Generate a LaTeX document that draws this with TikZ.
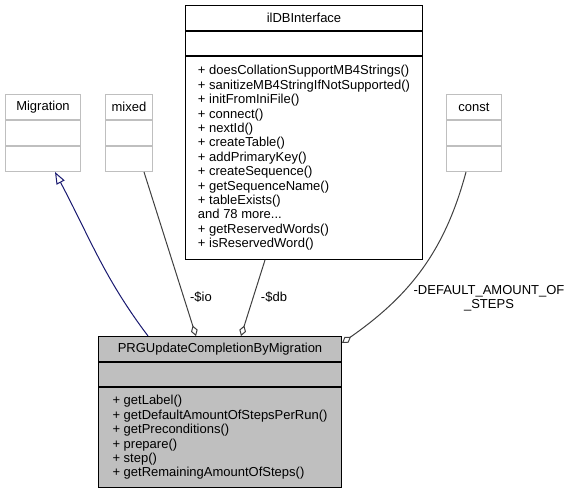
\documentclass[tikz,border=0pt]{standalone}
\usepackage{fontspec}
\setmainfont{Liberation Sans}
\usepackage{tikz}
\usetikzlibrary{positioning,arrows.meta,calc}

\definecolor{ghostgray}{HTML}{BFBFBF}
\definecolor{classfill}{HTML}{BFBFBF}
\definecolor{inheritblue}{HTML}{191970}
\definecolor{usegray}{HTML}{404040}

\begin{document}
\begin{tikzpicture}[x=1pt, y=1pt, node distance=0pt, line width=1pt,
  font=\fontsize{13}{14.4}\selectfont]
\tikzset{block/.style = {draw, rectangle, inner sep=0pt, align=left},
  ghost/.style = {block, draw=ghostgray},
  inherit/.style = {draw=inheritblue,
    -{Triangle[open, length=12pt, width=9pt]}},
  uses/.style = {draw=usegray,
    {Diamond[open, length=11pt, width=7pt]}-},
  lbl/.style = {inner sep=0pt, align=center}}

  \useasboundingbox (0,0) rectangle (575,-492);

  % external classes
  \node[ghost, anchor=north west, minimum width=75pt, minimum height=25pt]
    (migration) at (5,-94) {Migration};
  \node[ghost, minimum width=75pt, minimum height=25pt, below=of migration]
    (migrationattr) {};
  \node[ghost, minimum width=75pt, minimum height=25pt, below=of migrationattr]
    (migrationops) {};

  \node[ghost, anchor=north west, minimum width=47pt, minimum height=25pt]
    (mixed) at (105,-94) {mixed};
  \node[ghost, minimum width=47pt, minimum height=25pt, below=of mixed]
    (mixedattr) {};
  \node[ghost, minimum width=47pt, minimum height=25pt, below=of mixedattr]
    (mixedops) {};

  \node[ghost, anchor=north west, minimum width=55pt, minimum height=25pt]
    (const) at (446,-94) {const};
  \node[ghost, minimum width=55pt, minimum height=25pt, below=of const]
    (constattr) {};
  \node[ghost, minimum width=55pt, minimum height=25pt, below=of constattr]
    (constops) {};

  % database interface
  \node[block, anchor=north west, minimum width=237pt, minimum height=25pt]
    (dbiface) at (185,-5) {ilDBInterface};
  \node[block, minimum width=237pt, minimum height=24pt, below=of dbiface]
    (dbifaceattr) {};
  \node[block, minimum width=237pt, minimum height=203pt, below=of dbifaceattr]
    (dbifaceops) {+ doesCollationSupportMB4Strings()\\
      + sanitizeMB4StringIfNotSupported()\\
      + initFromIniFile()\\
      + connect()\\
      + nextId()\\
      + createTable()\\
      + addPrimaryKey()\\
      + createSequence()\\
      + getSequenceName()\\
      + tableExists()\\
      and 78 more...\\
      + getReservedWords()\\
      + isReservedWord()};

  % the migration itself
  \node[block, fill=classfill, anchor=north west, minimum width=243pt,
    minimum height=25pt] (prg) at (98,-336) {PRGUpdateCompletionByMigration};
  \node[block, fill=classfill, minimum width=243pt, minimum height=24pt,
    below=of prg] (prgattr) {};
  \node[block, fill=classfill, minimum width=243pt, minimum height=100pt,
    below=of prgattr] (prgops) {+ getLabel()\\
      + getDefaultAmountOfStepsPerRun()\\
      + getPreconditions()\\
      + prepare()\\
      + step()\\
      + getRemainingAmountOfSteps()};

  % relations
  \draw[inherit] ([xshift=50pt]prg.north west) to[out=127, in=-62]
    ([xshift=50pt]migrationops.south west);
  \draw[uses] ([xshift=98pt]prg.north west) --
    ([xshift=39pt]mixedops.south west);
  \draw[uses] ([xshift=143pt]prg.north west) --
    ([xshift=80pt]dbifaceops.south west);
  \draw[uses] ([yshift=-7pt]prg.north east) to[out=35, in=-105]
    ([xshift=20pt]constops.south west);

  \node[lbl] (iolabel) at (201,-297) {-\$io};
  \node[lbl] (dblabel) at (274,-297) {-\$db};
  \node[lbl] (defaultlabel) at (489,-298) {-DEFAULT\_AMOUNT\_OF\\\_STEPS};

\end{tikzpicture}
\end{document}
